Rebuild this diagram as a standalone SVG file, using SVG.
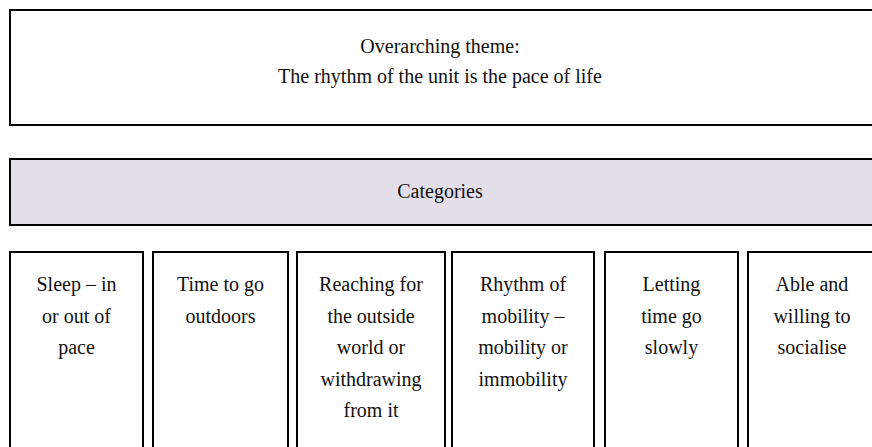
<svg xmlns="http://www.w3.org/2000/svg" width="872" height="447" viewBox="0 0 872 447">
<style>
.box{fill:#fff;stroke:#000;stroke-width:2}
.cat{fill:#e3dfea;stroke:#000;stroke-width:2}
text{font-family:"Liberation Serif","Times New Roman",serif;font-size:20px;fill:#111;text-anchor:middle}
</style>
<rect width="872" height="447" fill="#fff"/>
<g id="theme">
<rect class="box" x="10" y="10" width="880" height="115"/>
<text x="440" y="53">Overarching theme:</text>
<text x="440" y="83">The rhythm of the unit is the pace of life</text>
</g>
<g id="categories">
<rect class="cat" x="10" y="159" width="880" height="66"/>
<text x="440" y="198">Categories</text>
</g>
<g id="c1">
<rect class="box" x="10" y="252" width="133" height="220"/>
<text x="76.5" y="291"><tspan x="76.5">Sleep – in</tspan><tspan x="76.5" dy="31.5">or out of</tspan><tspan x="76.5" dy="31.5">pace</tspan></text>
</g>
<g id="c2">
<rect class="box" x="153" y="252" width="135" height="220"/>
<text x="220.5" y="291"><tspan x="220.5">Time to go</tspan><tspan x="220.5" dy="31.5">outdoors</tspan></text>
</g>
<g id="c3">
<rect class="box" x="297" y="252" width="148" height="220"/>
<text x="371" y="291"><tspan x="371">Reaching for</tspan><tspan x="371" dy="31.5">the outside</tspan><tspan x="371" dy="31.5">world or</tspan><tspan x="371" dy="31.5">withdrawing</tspan><tspan x="371" dy="31.5">from it</tspan></text>
</g>
<g id="c4">
<rect class="box" x="452" y="252" width="142" height="220"/>
<text x="523" y="291"><tspan x="523">Rhythm of</tspan><tspan x="523" dy="31.5">mobility –</tspan><tspan x="523" dy="31.5">mobility or</tspan><tspan x="523" dy="31.5">immobility</tspan></text>
</g>
<g id="c5">
<rect class="box" x="605" y="252" width="133" height="220"/>
<text x="671.5" y="291"><tspan x="671.5">Letting</tspan><tspan x="671.5" dy="31.5">time go</tspan><tspan x="671.5" dy="31.5">slowly</tspan></text>
</g>
<g id="c6">
<rect class="box" x="748" y="252" width="134" height="220"/>
<text x="812" y="291"><tspan x="812">Able and</tspan><tspan x="812" dy="31.5">willing to</tspan><tspan x="812" dy="31.5">socialise</tspan></text>
</g>
<g id="connectors"></g>
</svg>
